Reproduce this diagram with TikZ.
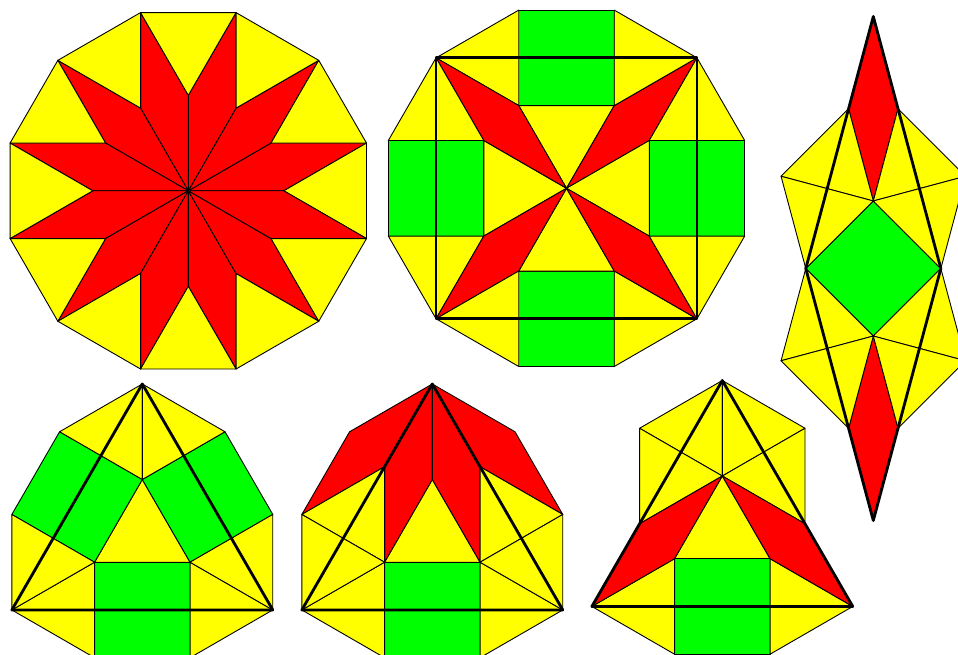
\documentclass[tikz,border=0pt]{standalone}
\definecolor{tY}{RGB}{255,255,0}
\definecolor{tR}{RGB}{255,0,0}
\definecolor{tG}{RGB}{0,255,0}
\tikzset{
  ytile/.style={fill=tY,draw=black,line width=0.9pt,line join=round},
  rtile/.style={fill=tR,draw=black,line width=0.9pt,line join=round},
  gtile/.style={fill=tG,draw=black,line width=0.9pt,line join=round},
  boldline/.style={draw=black,line width=2.8pt,line join=round,line cap=round},
  unitscale/.style={x=95.5pt,y=95.5pt}
}
\newcommand{\basepts}{%
  \coordinate (T) at (0,1);
  \coordinate (P1) at (0,0);
  \coordinate (P2) at (-0.5,-0.8660254);
  \coordinate (P3) at (0.5,-0.8660254);
  \coordinate (Q1) at (-0.8660254,0.5);
  \coordinate (Q1r) at (0.8660254,0.5);
  \coordinate (Q3) at (-1.3660254,-0.3660254);
  \coordinate (Q3r) at (1.3660254,-0.3660254);
  \coordinate (Q4) at (-1.3660254,-1.3660254);
  \coordinate (Q4r) at (1.3660254,-1.3660254);
  \coordinate (B1) at (-0.5,-1.8660254);
  \coordinate (B2) at (0.5,-1.8660254);
  \coordinate (X) at (-0.5,0.1339746);
  \coordinate (Xr) at (0.5,0.1339746);
  \coordinate (H) at (-0.8660254,-0.5);
  \coordinate (Hr) at (0.8660254,-0.5);
}
\newcommand{\basebottom}{%
  \draw[ytile] (P1) -- (P2) -- (P3) -- cycle;
  \draw[gtile] (P2) -- (P3) -- (B2) -- (B1) -- cycle;
  \draw[ytile] (Q4) -- (P2) -- (B1) -- cycle;
  \draw[ytile] (Q4r) -- (P3) -- (B2) -- cycle;
}
\begin{document}
\begin{tikzpicture}
\clip (0,0) rectangle (958pt,-655pt);
\fill[white] (0,0) rectangle (958pt,-655pt);

% ---------- Figure 1: dodecagon star ----------
\begin{scope}[shift={(188.3pt,-190.8pt)},unitscale]
  \foreach \k in {0,...,11}{
    \pgfmathsetmacro\a{30*\k}
    \draw[rtile] (0,0) -- ({\a}:1) -- ({\a+15}:1.9318517) -- ({\a+30}:1) -- cycle;
    \draw[ytile] ({\a-15}:1.9318517) -- ({\a+15}:1.9318517) -- ({\a}:1) -- cycle;
  }
\end{scope}

% ---------- Figure 2: dodecagon with squares ----------
\begin{scope}[shift={(566.5pt,-188.3pt)},unitscale]
  \foreach \r in {0,90,180,270}{
    \begin{scope}[rotate=\r]
      \draw[gtile] (-0.5,1.8660254) -- (0.5,1.8660254) -- (0.5,0.8660254) -- (-0.5,0.8660254) -- cycle;
      \draw[ytile] (0,0) -- (-0.5,0.8660254) -- (0.5,0.8660254) -- cycle;
      \draw[rtile] (0,0) -- (0.5,0.8660254) -- (1.3660254,1.3660254) -- (0.8660254,0.5) -- cycle;
      \draw[ytile] (0.5,1.8660254) -- (1.3660254,1.3660254) -- (0.5,0.8660254) -- cycle;
      \draw[ytile] (-0.5,1.8660254) -- (-1.3660254,1.3660254) -- (-0.5,0.8660254) -- cycle;
    \end{scope}
  }
  \draw[boldline] (-1.3660254,-1.3660254) -- (1.3660254,-1.3660254) -- (1.3660254,1.3660254) -- (-1.3660254,1.3660254) -- cycle;
\end{scope}

% ---------- Figure 3: vertical figure ----------
\begin{scope}[shift={(873.3pt,-268.5pt)},unitscale]
  \coordinate (sT) at (0,0.7071068);
  \coordinate (sR) at (0.7071068,0);
  \coordinate (sB) at (0,-0.7071068);
  \coordinate (sL) at (-0.7071068,0);
  \coordinate (tipT) at (0,2.6389584);
  \coordinate (tipB) at (0,-2.6389584);
  \coordinate (S1) at (-0.2588190,1.6730326);
  \coordinate (S1r) at (0.2588190,1.6730326);
  \coordinate (S2) at (-0.2588190,-1.6730326);
  \coordinate (S2r) at (0.2588190,-1.6730326);
  \coordinate (A1) at (-0.9659258,0.9659258);
  \coordinate (A1r) at (0.9659258,0.9659258);
  \coordinate (A2) at (-0.9659258,-0.9659258);
  \coordinate (A2r) at (0.9659258,-0.9659258);
  \draw[gtile] (sT) -- (sR) -- (sB) -- (sL) -- cycle;
  \draw[rtile] (tipT) -- (S1) -- (sT) -- (S1r) -- cycle;
  \draw[rtile] (tipB) -- (S2) -- (sB) -- (S2r) -- cycle;
  \draw[ytile] (S1) -- (A1) -- (sT) -- cycle;
  \draw[ytile] (S1r) -- (A1r) -- (sT) -- cycle;
  \draw[ytile] (sT) -- (sL) -- (A1) -- cycle;
  \draw[ytile] (sT) -- (sR) -- (A1r) -- cycle;
  \draw[ytile] (sL) -- (sB) -- (A2) -- cycle;
  \draw[ytile] (sR) -- (sB) -- (A2r) -- cycle;
  \draw[ytile] (A2) -- (sB) -- (S2) -- cycle;
  \draw[ytile] (A2r) -- (sB) -- (S2r) -- cycle;
  \draw[boldline] (tipT) -- (sL) -- (tipB) -- (sR) -- cycle;
\end{scope}

% ---------- Figure 4: squares ----------
\begin{scope}[shift={(142.3pt,-479.5pt)},unitscale]
  \basepts
  \basebottom
  \draw[gtile] (P1) -- (Q1) -- (Q3) -- (P2) -- cycle;
  \draw[gtile] (P1) -- (Q1r) -- (Q3r) -- (P3) -- cycle;
  \draw[ytile] (T) -- (Q1) -- (P1) -- cycle;
  \draw[ytile] (T) -- (Q1r) -- (P1) -- cycle;
  \draw[ytile] (Q3) -- (P2) -- (Q4) -- cycle;
  \draw[ytile] (Q3r) -- (P3) -- (Q4r) -- cycle;
  \draw[boldline] (T) -- (Q4) -- (Q4r) -- cycle;
\end{scope}

% ---------- Figure 5: rhombi ----------
\begin{scope}[shift={(432.3pt,-479.5pt)},unitscale]
  \basepts
  \basebottom
  \draw[rtile] (T) -- (Q1) -- (Q3) -- (X) -- cycle;
  \draw[rtile] (T) -- (Q1r) -- (Q3r) -- (Xr) -- cycle;
  \draw[rtile] (T) -- (P1) -- (P2) -- (X) -- cycle;
  \draw[rtile] (T) -- (P1) -- (P3) -- (Xr) -- cycle;
  \draw[ytile] (X) -- (Q3) -- (P2) -- cycle;
  \draw[ytile] (Xr) -- (Q3r) -- (P3) -- cycle;
  \draw[ytile] (Q3) -- (P2) -- (Q4) -- cycle;
  \draw[ytile] (Q3r) -- (P3) -- (Q4r) -- cycle;
  \draw[boldline] (T) -- (Q4) -- (Q4r) -- cycle;
\end{scope}

% ---------- Figure 6: hexagon top ----------
\begin{scope}[shift={(722.3pt,-476pt)},unitscale]
  \basepts
  \basebottom
  \draw[ytile] (T) -- (Q1) -- (P1) -- cycle;
  \draw[ytile] (T) -- (Q1r) -- (P1) -- cycle;
  \draw[ytile] (Q1) -- (H) -- (P1) -- cycle;
  \draw[ytile] (Q1r) -- (Hr) -- (P1) -- cycle;
  \draw[rtile] (H) -- (P1) -- (P2) -- (Q4) -- cycle;
  \draw[rtile] (Hr) -- (P1) -- (P3) -- (Q4r) -- cycle;
  \draw[boldline] (T) -- (Q4) -- (Q4r) -- cycle;
\end{scope}
\end{tikzpicture}
\end{document}
